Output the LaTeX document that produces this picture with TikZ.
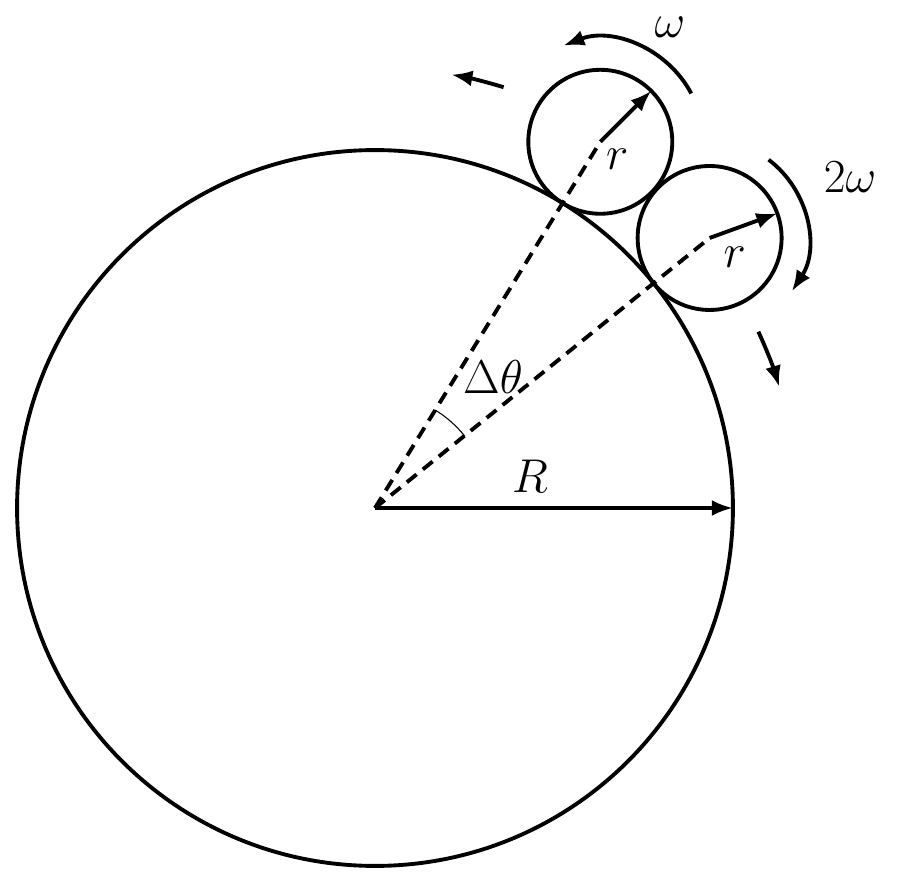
\RequirePackage{fix-cm}
\documentclass[tikz,border=0pt]{standalone}
\usepackage{amsmath}
\usepackage{tikz}
\usetikzlibrary{arrows.meta, calc}
\tikzset{
  ring/.style={draw, circle, line width=2.2pt, inner sep=0pt, outer sep=0pt},
  rad/.style={-{Latex[length=0.42cm, width=0.32cm]}, line width=2.2pt},
  spin/.style={-{Latex[length=0.42cm, width=0.32cm]}, line width=2.2pt},
  cut/.style={dash pattern=on 0.25cm off 0.16cm, line width=2.2pt},
  lbl/.style={font=\fontsize{27}{30}\selectfont}
}

\begin{document}
\begin{tikzpicture}[x=0.02cm, y=0.02cm]
  \useasboundingbox (-375,-375) rectangle (525,508);
  \coordinate (O) at (0,0);
  \node[ring, minimum size=14.32cm] (big) at (O) {};
  \node[ring, minimum size=2.88cm] (top) at (58.4:430) {};
  \node[ring, minimum size=2.88cm] (side) at (38.9:430) {};

  % radii
  \draw[cut] (big.center) -- (top.center);
  \draw[cut] (big.center) -- (side.center);
  \draw[rad] (big.center) -- (big.east);
  \draw[rad] (top.center) -- (top.45);
  \draw[rad] (side.center) -- (side.20);
  \draw[line width=0.6pt] (38.9:115) arc[start angle=38.9, end angle=58.4, radius=115];

  % rotations
  \draw[spin] ($(top.center)+(28:103)$) arc[start angle=28, end angle=111, radius=103];
  \draw[spin] ($(side.center)+(53:98)$) arc[start angle=53, end angle=-33, radius=98];
  \draw[spin] (73:440) arc[start angle=73, end angle=80, radius=440];
  \draw[spin] (24.7:422) arc[start angle=24.7, end angle=16.7, radius=422];

  \node[lbl] (dth) at (118,131) {$\Delta\theta$};
  \node[lbl] (Rlab) at (155,32) {$R$};
  \node[lbl] (r1) at ($(top.center)+(17,-18)$) {$r$};
  \node[lbl] (r2) at ($(side.center)+(25,-19)$) {$r$};
  \node[lbl] (w1) at (295,481) {$\omega$};
  \node[lbl] (w2) at (475,331) {$2\omega$};
\end{tikzpicture}
\end{document}
